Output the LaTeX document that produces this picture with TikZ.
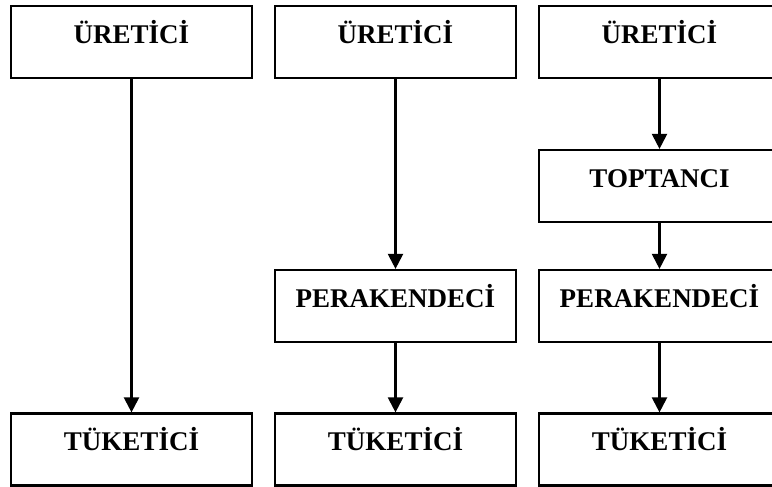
\documentclass[tikz,border=0pt]{standalone}
\usepackage{fontspec}
\setmainfont{Liberation Serif}
\usetikzlibrary{arrows.meta}

\begin{document}
\begin{tikzpicture}[x=0.5pt,y=-0.5pt,
  kutu/.style={draw=black,line width=1.1pt,inner sep=0pt,minimum width=120.5pt,
    text height=18.5pt,text depth=17.5pt,
    font=\fontsize{13.5}{15}\selectfont\bfseries},
  ok/.style={black,line width=1.1pt,-{Triangle[length=7.5pt,width=7.5pt]}}]
\clip (0,0) rectangle (772,487);
% first channel
\node [kutu] (ur1) at (131.5,42) {ÜRETİCİ};
\node [kutu] (tu1) at (131.5,449.5) {TÜKETİCİ};
\draw [ok] (ur1) -- (tu1);
% second channel
\node [kutu] (ur2) at (395.5,42) {ÜRETİCİ};
\node [kutu] (pe2) at (395.5,306) {PERAKENDECİ};
\node [kutu] (tu2) at (395.5,449.5) {TÜKETİCİ};
\draw [ok] (ur2) -- (pe2);
\draw [ok] (pe2) -- (tu2);
% third channel
\node [kutu] (ur3) at (659.5,42) {ÜRETİCİ};
\node [kutu] (to3) at (659.5,186) {TOPTANCI};
\node [kutu] (pe3) at (659.5,306) {PERAKENDECİ};
\node [kutu] (tu3) at (659.5,449.5) {TÜKETİCİ};
\draw [ok] (ur3) -- (to3);
\draw [ok] (to3) -- (pe3);
\draw [ok] (pe3) -- (tu3);
\end{tikzpicture}
\end{document}
